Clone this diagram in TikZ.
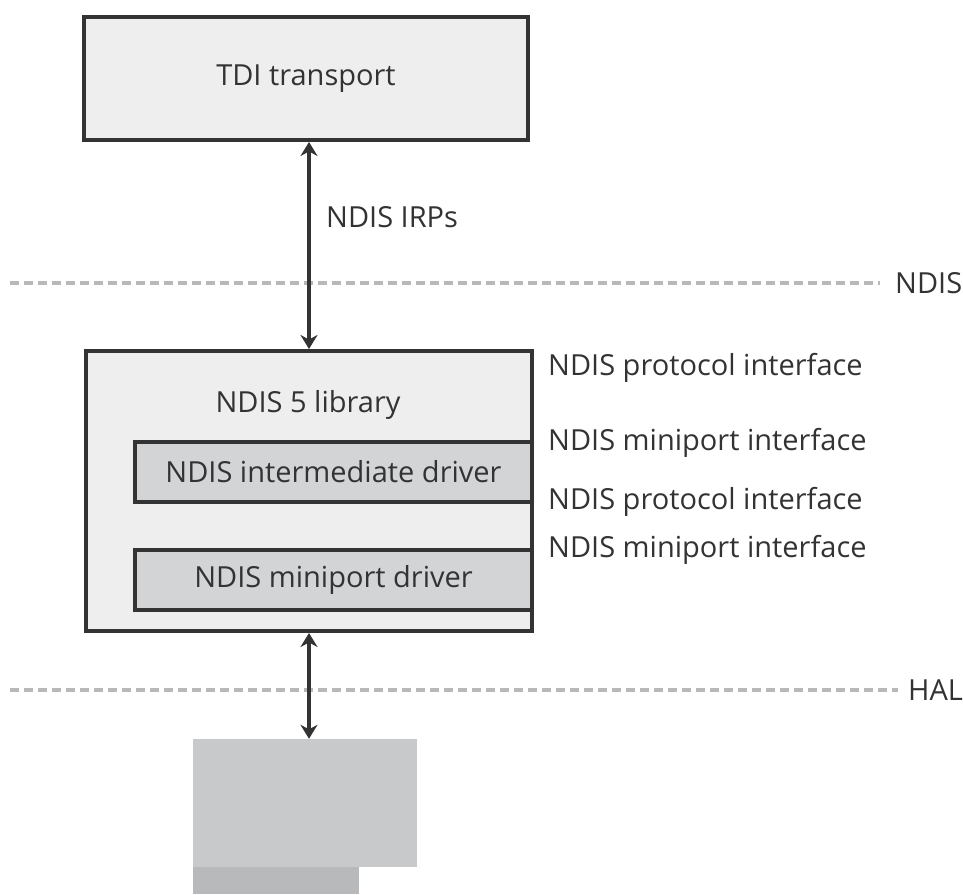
\documentclass[tikz,border=0pt]{standalone}
\usepackage{fontspec}
\setmainfont{Open Sans}
\usetikzlibrary{arrows.meta,positioning}
\definecolor{edge}{HTML}{333333}
\definecolor{outerfill}{HTML}{EEEEEE}
\definecolor{innerfill}{HTML}{D3D4D6}
\definecolor{hwfill}{HTML}{C8C9CB}
\definecolor{hwbase}{HTML}{B8B9BB}
\definecolor{sepgray}{HTML}{B8B8B8}

\begin{document}
\begin{tikzpicture}[
  x=1pt, y=-1pt,
  every node/.style={font=\fontsize{29}{32}\selectfont, text=edge},
  outer/.style={draw=edge, line width=4pt, fill=outerfill, inner sep=0pt},
  inner/.style={draw=edge, line width=4pt, fill=innerfill, inner sep=0pt},
  block/.style={inner sep=0pt, draw=none},
  side/.style={anchor=west, inner sep=0pt},
  arr/.style={{Stealth[length=14pt,width=17pt]}-{Stealth[length=14pt,width=17pt]}, line width=4pt, draw=edge},
  sep/.style={draw=sepgray, line width=3.5pt, dash pattern=on 9pt off 5pt}
]
\useasboundingbox (0,0) rectangle (963,894);

\node[outer, minimum width=444pt, minimum height=123pt] (tdi) at (306,78.5) {TDI transport};

\node[outer, minimum width=446pt, minimum height=280pt] (lib) at (309,491) {};
\node (libtxt) at (308,405) {NDIS 5 library};
\node[inner, minimum width=397pt, minimum height=60pt] (inter) at (333.5,472) {NDIS intermediate driver};
\node[inner, minimum width=397pt, minimum height=60pt] (mini) at (333.5,580) {NDIS miniport driver};

\node[side] (irps) at (326,217) {NDIS IRPs};

\node[side] (proto1) at (548,368) {NDIS protocol interface};
\node[side] (mport1) at (548,443) {NDIS miniport interface};
\node[side] (proto2) at (548,502) {NDIS protocol interface};
\node[side] (mport2) at (548,550) {NDIS miniport interface};

\node[block, fill=hwfill, minimum width=224pt, minimum height=128pt] (hw) at (305,803) {};
\node[block, fill=hwbase, minimum width=166pt, minimum height=27pt] (hwb) at (276,880.5) {};

\node[side] (ndis) at (895,283) {NDIS};
\node[side] (hal) at (908,690) {HAL};
\coordinate (ndisL) at (10,283);
\coordinate (halL) at (10,690);
\draw[sep] (ndisL) -- ([xshift=-15pt]ndis.west);
\draw[sep] (halL) -- ([xshift=-10pt]hal.west);

\draw[arr] (lib.north) -- (lib.north |- tdi.south);
\draw[arr] (lib.south) -- (lib.south |- hw.north);
\end{tikzpicture}
\end{document}
